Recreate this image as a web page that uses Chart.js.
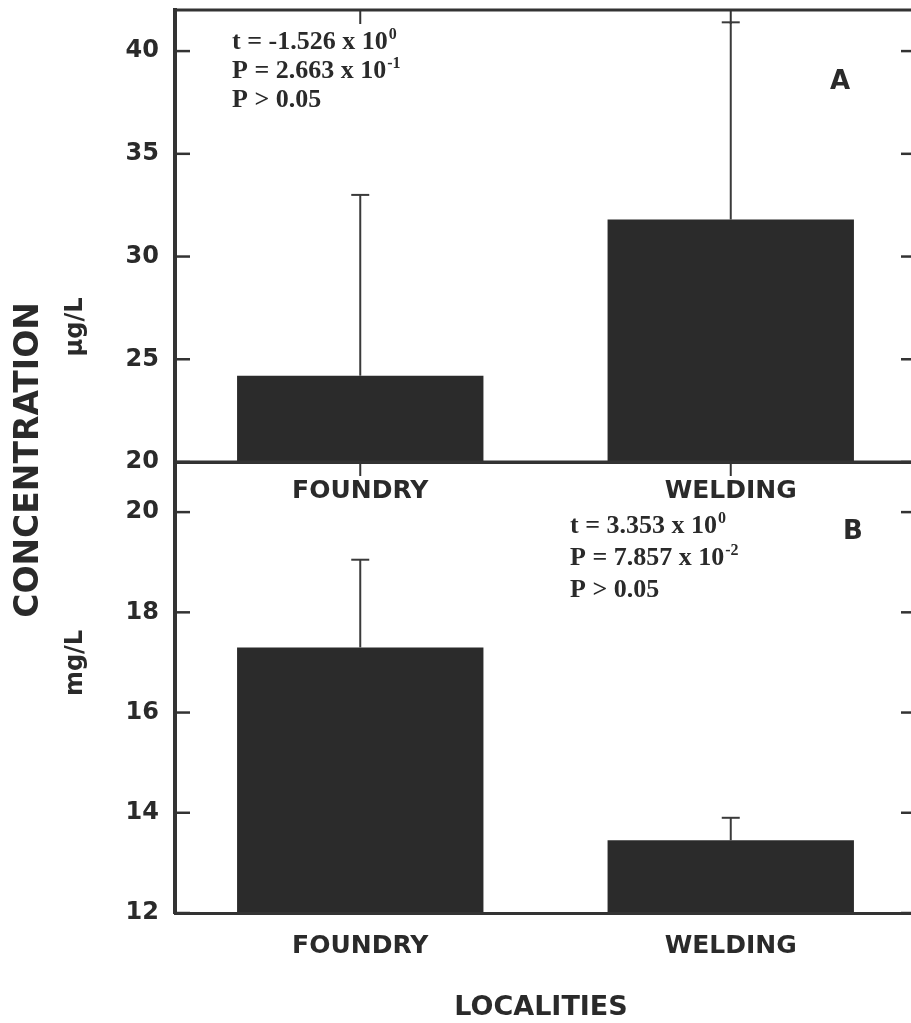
<!DOCTYPE html>
<html>
<head>
<meta charset="utf-8">
<script src="https://cdn.jsdelivr.net/npm/chart.js@4.4.0/dist/chart.umd.min.js"></script>
<style>
  html, body { margin: 0; padding: 0; background: #fff; overflow: hidden; }
  #wrap { position: relative; width: 911px; height: 1023px; overflow: hidden; background: #fff; }
  #wrap canvas { position: absolute; left: 0; top: 0; }
</style>
</head>
<body>
<div id="wrap">
  <canvas id="panelA" width="940" height="1023"></canvas>
  <canvas id="panelB" width="940" height="1023"></canvas>
</div>
<script>
// Sampling sites
const localities = ['FOUNDRY', 'WELDING'];

// Panel A: concentration in µg/L (mean and mean + SD)
const meanA = [24.2, 31.8];
const upperA = [33.0, 41.4];
const rangeA = [20, 42];
const stepA = 5;
const statsA = [['t = -1.526 x 10', '0'], ['P = 2.663 x 10', '-1'], ['P > 0.05', '']];

// Panel B: concentration in mg/L (mean and mean + SD)
const meanB = [17.3, 13.45];
const upperB = [19.05, 13.9];
const rangeB = [12, 21];
const stepB = 2;
const statsB = [['t = 3.353 x 10', '0'], ['P = 7.857 x 10', '-2'], ['P > 0.05', '']];

const INK = '#2a2a2a';
const LINE = '#333333';
const BAR = '#2b2b2b';
const SANS = '"DejaVu Sans", "Liberation Sans", Arial, sans-serif';
const SERIF = '"Liberation Serif", "Times New Roman", serif';
const PLOT_LEFT = 175;
const PLOT_RIGHT = 916;

function line(ctx, x1, y1, x2, y2, w) {
  ctx.lineWidth = w;
  ctx.beginPath();
  ctx.moveTo(x1, y1);
  ctx.lineTo(x2, y2);
  ctx.stroke();
}

function statsBlock(ctx, rows, x, y0, gap) {
  rows.forEach((r, i) => {
    const y = y0 + i * gap;
    ctx.font = 'bold 26px ' + SERIF;
    ctx.textAlign = 'left';
    ctx.textBaseline = 'alphabetic';
    ctx.fillText(r[0], x, y);
    if (r[1]) {
      const w = ctx.measureText(r[0]).width;
      ctx.font = 'bold 16px ' + SERIF;
      ctx.fillText(r[1], x + w + 1, y - 10);
    }
  });
}

function rotatedLabel(ctx, text, font, x, y) {
  ctx.save();
  ctx.translate(x, y);
  ctx.rotate(-Math.PI / 2);
  ctx.font = font;
  ctx.textAlign = 'center';
  ctx.textBaseline = 'alphabetic';
  ctx.fillText(text, 0, 0);
  ctx.restore();
}

// Frame, inward ticks and upper error bars for one panel
function panelDecor(upper, drawText) {
  return {
    id: 'panelDecor',
    afterDraw(chart) {
      const ctx = chart.ctx;
      const area = chart.chartArea;
      const xs = chart.scales.x;
      const ys = chart.scales.y;
      const meta = chart.getDatasetMeta(0);
      ctx.save();
      ctx.strokeStyle = LINE;
      ctx.lineCap = 'butt';
      // top and right frame
      line(ctx, area.left - 2, area.top, area.right, area.top, 3);
      line(ctx, area.right, area.top, area.right, area.bottom, 3);
      // inward y ticks on both sides
      ys.ticks.forEach(t => {
        const y = ys.getPixelForValue(t.value);
        line(ctx, area.left, y, area.left + 15, y, 2.5);
        line(ctx, area.right - 15, y, area.right, y, 2.5);
      });
      // inward category ticks along the top
      localities.forEach((_, i) => {
        const x = xs.getPixelForValue(i);
        line(ctx, x, area.top, x, area.top + 14, 2);
      });
      // upper error bars
      ctx.strokeStyle = '#3a3a3a';
      meta.data.forEach((bar, i) => {
        const x = bar.x;
        const yTop = ys.getPixelForValue(upper[i]);
        line(ctx, x, bar.y, x, yTop, 2);
        line(ctx, x - 9, yTop, x + 9, yTop, 2);
      });
      ctx.fillStyle = INK;
      drawText(ctx);
      ctx.restore();
    }
  };
}

function makePanel(id, values, upper, range, step, padTop, xAxisHeight, xPad, drawText) {
  return new Chart(document.getElementById(id), {
    type: 'bar',
    data: {
      labels: localities,
      datasets: [{
        data: values,
        backgroundColor: BAR,
        borderWidth: 0,
        categoryPercentage: 1,
        barPercentage: 0.665
      }]
    },
    options: {
      responsive: false,
      animation: false,
      events: [],
      layout: { padding: { top: padTop, right: 940 - PLOT_RIGHT, left: 0, bottom: 0 } },
      plugins: { legend: { display: false }, tooltip: { enabled: false } },
      scales: {
        x: {
          grid: { display: false, drawTicks: false },
          border: { display: true, color: LINE, width: 3, z: 1 },
          ticks: { color: INK, font: { family: SANS, size: 25, weight: 'bold' }, padding: xPad, maxRotation: 0 },
          afterFit(s) {
            s.height = xAxisHeight;
            s.paddingLeft = 0;
            s.paddingRight = 0;
          }
        },
        y: {
          min: range[0],
          max: range[1],
          grid: { display: false, drawTicks: false },
          border: { display: true, color: LINE, width: 4, z: 1 },
          ticks: {
            stepSize: step,
            includeBounds: false,
            color: INK,
            font: { family: SANS, size: 24, weight: 'bold' },
            padding: 16
          },
          afterFit(s) {
            s.width = PLOT_LEFT;
            s.paddingTop = 0;
            s.paddingBottom = 0;
          }
        }
      }
    },
    plugins: [panelDecor(upper, drawText)]
  });
}

makePanel('panelA', meanA, upperA, rangeA, stepA, 10, 1023 - 462, 14, ctx => {
  statsBlock(ctx, statsA, 232, 49, 29);
  ctx.font = 'bold 26px ' + SANS;
  ctx.textAlign = 'center';
  ctx.textBaseline = 'middle';
  ctx.fillText('A', 840, 82);
  rotatedLabel(ctx, 'CONCENTRATION', 'bold 33px ' + SANS, 38, 460);
  rotatedLabel(ctx, 'µg/L', 'bold 24px ' + SANS, 82, 327);
});

makePanel('panelB', meanB, upperB, rangeB, stepB, 462, 1023 - 913, 18, ctx => {
  statsBlock(ctx, statsB, 570, 533, 32);
  ctx.font = 'bold 26px ' + SANS;
  ctx.textAlign = 'center';
  ctx.textBaseline = 'middle';
  ctx.fillText('B', 853, 532);
  rotatedLabel(ctx, 'mg/L', 'bold 24px ' + SANS, 82, 663);
  ctx.font = 'bold 27px ' + SANS;
  ctx.textAlign = 'center';
  ctx.textBaseline = 'alphabetic';
  ctx.fillText('LOCALITIES', 541, 1015);
});
</script>
</body>
</html>
